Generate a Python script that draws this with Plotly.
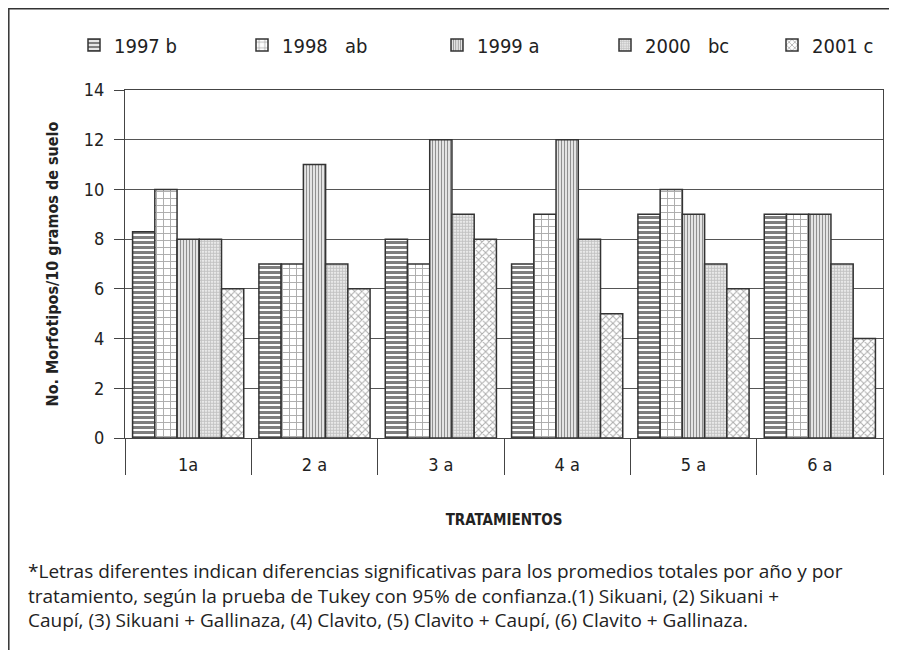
import plotly.graph_objects as go

categories = ["1a", "2 a", "3 a", "4 a", "5 a", "6 a"]
series_names = ["1997 b", "1998   ab", "1999 a", "2000   bc", "2001 c"]
v1997 = [8.3, 7, 8, 7, 9, 9]
v1998 = [10, 7, 7, 9, 10, 9]
v1999 = [8, 11, 12, 12, 9, 9]
v2000 = [8, 7, 9, 8, 7, 7]
v2001 = [6, 6, 8, 5, 6, 4]
values = [v1997, v1998, v1999, v2000, v2001]

patterns = [
    dict(shape="-", fgcolor="#000000", bgcolor="white", size=5, solidity=0.6),
    dict(shape="+", fgcolor="#555555", bgcolor="white", size=7, solidity=0.25),
    dict(shape="|", fgcolor="#222222", bgcolor="white", size=3, solidity=0.5),
    dict(shape=".", fgcolor="#888888", bgcolor="white", size=3, solidity=0.7),
    dict(shape="x", fgcolor="#555555", bgcolor="white", size=5, solidity=0.35),
]

FONT = "DejaVu Sans Condensed, Open Sans, sans-serif"
NOTE_FONT = "Open Sans, Noto Sans, sans-serif"

W, H = 897, 650
OFF = 8  # page body margin offset of the rendered figure
# plot area in screen pixels, converted to figure pixels
L, R, T, B = 125 - OFF, 883 - OFF, 90 - OFF, 438 - OFF

# screen x where each legend entry's text starts
legend_text_x = [114, 282, 477, 645, 812]
legend_names = ["legend", "legend2", "legend3", "legend4", "legend5"]

fig = go.Figure()
for name, vals, pat, lg in zip(series_names, values, patterns, legend_names):
    fig.add_trace(go.Bar(
        x=categories, y=vals, name=name, legend=lg,
        marker=dict(color="white", pattern=pat,
                    line=dict(color="#333333", width=1.5)),
    ))

layout_legends = {}
for lg, tx in zip(legend_names, legend_text_x):
    layout_legends[lg] = dict(
        xref="container", yref="container",
        x=(tx - OFF - 40) / W, y=1 - (45 - OFF) / H, xanchor="left", yanchor="middle",
        bgcolor="rgba(0,0,0,0)", font=dict(size=20, family=FONT, color="#222222"),
        orientation="h",
    )

fig.update_layout(
    width=W, height=H,
    margin=dict(l=L, r=W - R, t=T, b=H - B, autoexpand=False),
    paper_bgcolor="white", plot_bgcolor="white",
    barmode="group", bargap=0.12, bargroupgap=0,
    font=dict(family=FONT, color="#222222", size=16),
    showlegend=True,
    **layout_legends,
)
fig.update_xaxes(
    type="category", showline=True, linecolor="#444444", linewidth=1.2,
    mirror=True, ticks="outside", tickson="boundaries", ticklen=36,
    tickcolor="#444444", tickwidth=1, showgrid=False,
    ticklabelstandoff=10,
    tickfont=dict(size=18, family=FONT),
    title=dict(text="<b>TRATAMIENTOS</b>", font=dict(size=15, family=FONT), standoff=40),
)
fig.update_yaxes(
    range=[0, 14], dtick=2, showline=True, linecolor="#444444", linewidth=1.2,
    mirror=True, ticks="outside", ticklen=10, tickcolor="#444444",
    ticklabelstandoff=6,
    showgrid=True, gridcolor="#555555", gridwidth=1,
    tickfont=dict(size=18, family=FONT),
    title=dict(text="<b>No. Morfotipos/10 gramos de suelo</b>",
               font=dict(size=16, family=FONT), standoff=21),
)

note = ("*Letras diferentes indican diferencias significativas para los promedios totales por año y por<br>"
        "tratamiento, según la prueba de Tukey con 95% de confianza.(1) Sikuani, (2) Sikuani +<br>"
        "Caupí, (3) Sikuani + Gallinaza, (4) Clavito, (5) Clavito + Caupí, (6) Clavito + Gallinaza.")
fig.add_annotation(text=note, xref="paper", yref="paper",
                   x=(26 - OFF - L) / (R - L), y=(B - (556 - OFF)) / (B - T),
                   xanchor="left", yanchor="top", align="left", showarrow=False,
                   font=dict(size=19, family=NOTE_FONT, color="#222222"))

fig.add_shape(type="rect", xref="paper", yref="paper",
              x0=(0.8 - L) / (R - L), x1=(905 - L) / (R - L),
              y0=(B - 660) / (B - T), y1=(B - 0.8) / (B - T),
              line=dict(color="#333333", width=1.5), fillcolor="rgba(0,0,0,0)")

fig.write_html("out.html")
